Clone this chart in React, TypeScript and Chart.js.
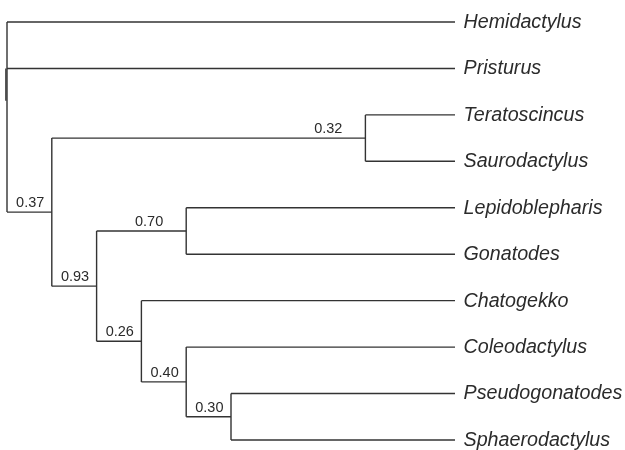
import React, { useEffect, useRef } from "react";
import { Chart, registerables } from "chart.js";

Chart.register(...registerables);

// Tips in plotting order (top to bottom)
const taxa = [
  "Hemidactylus",
  "Pristurus",
  "Teratoscincus",
  "Saurodactylus",
  "Lepidoblepharis",
  "Gonatodes",
  "Chatogekko",
  "Coleodactylus",
  "Pseudogonatodes",
  "Sphaerodactylus",
];
const taxonParent = ["root", "root", "n32", "n32", "n70", "n70", "n26", "n40", "n30", "n30"];
const tipDepth = 10;

// Internal nodes
const nodeIds = ["root", "n37", "n32", "n93", "n70", "n26", "n40", "n30"];
const nodeParent = [null, "root", "n37", "n37", "n93", "n93", "n26", "n40"];
const nodeDepth = [0, 1, 8, 2, 4, 3, 4, 5];
const nodeSupport = ["", "0.37", "0.32", "0.93", "0.70", "0.26", "0.40", "0.30"];

const LINE = "#333333";
const TEXT = "#2b2b2b";

type P = { x: number; y: number };

function buildTree() {
  const yOf: Record<string, number> = {};
  const xOf: Record<string, number> = {};
  const kids: Record<string, string[]> = {};
  nodeIds.forEach((id, i) => {
    kids[id] = [];
    xOf[id] = nodeDepth[i];
  });
  taxa.forEach((t, i) => {
    yOf[t] = i;
    xOf[t] = tipDepth;
    kids[taxonParent[i]].push(t);
  });
  nodeIds.forEach((id, i) => {
    const p = nodeParent[i];
    if (p) kids[p].push(id);
  });
  const ySpan: Record<string, [number, number]> = {};
  const calc = (id: string): number => {
    if (yOf[id] !== undefined) return yOf[id];
    const ys = kids[id].map(calc);
    const lo = Math.min(...ys);
    const hi = Math.max(...ys);
    ySpan[id] = [lo, hi];
    yOf[id] = (lo + hi) / 2;
    return yOf[id];
  };
  calc("root");
  const rootMean = kids["root"].map((k) => yOf[k]).reduce((a, b) => a + b, 0) / kids["root"].length;

  const segs: P[][] = [];
  taxa.forEach((t, i) => {
    const p = taxonParent[i];
    segs.push([{ x: xOf[p], y: yOf[t] }, { x: xOf[t], y: yOf[t] }]);
  });
  nodeIds.forEach((id, i) => {
    const p = nodeParent[i];
    if (p) segs.push([{ x: xOf[p], y: yOf[id] }, { x: xOf[id], y: yOf[id] }]);
  });
  nodeIds.forEach((id) => {
    const [lo, hi] = ySpan[id];
    segs.push([{ x: xOf[id], y: lo }, { x: xOf[id], y: hi }]);
  });
  segs.push([{ x: -0.025, y: 1 }, { x: -0.025, y: rootMean }]);

  const supports = nodeIds
    .map((id, i) => {
      const p = nodeParent[i];
      return {
        label: nodeSupport[i],
        x: xOf[id],
        y: yOf[id],
        longEdge: p ? xOf[id] - xOf[p] > 1 : false,
      };
    })
    .filter((s) => s.label);
  return { segs, supports };
}

export default function App() {
  const ref = useRef<HTMLCanvasElement | null>(null);
  useEffect(() => {
    if (!ref.current) return;
    const { segs, supports } = buildTree();
    const W = 625;
    const H = 450;
    const pxPerX = 44.8;
    const pxPerY = 46.44;
    const xMin = -7 / pxPerX;
    const yMin = -22 / pxPerY;

    const labelPlugin = {
      id: "treeLabels",
      afterDatasetsDraw(chart: any) {
        const { ctx, scales } = chart;
        const xs = scales.x;
        const ys = scales.y;
        ctx.save();
        ctx.fillStyle = TEXT;
        ctx.font = "italic 19.7px 'Liberation Sans', Arial, sans-serif";
        ctx.textAlign = "left";
        ctx.textBaseline = "middle";
        taxa.forEach((t, i) => {
          ctx.fillText(t, xs.getPixelForValue(tipDepth) + 8.5, ys.getPixelForValue(i) + 0.5);
        });
        ctx.font = "14.5px 'Liberation Sans', Arial, sans-serif";
        ctx.textAlign = "right";
        ctx.textBaseline = "alphabetic";
        supports.forEach((s) => {
          const gap = s.longEdge ? 23 : 7.5;
          ctx.fillText(s.label, xs.getPixelForValue(s.x) - gap, ys.getPixelForValue(s.y) - 5);
        });
        ctx.restore();
      },
    };

    const chart = new Chart(ref.current, {
      type: "scatter",
      data: {
        datasets: segs.map((s) => ({
          data: s,
          showLine: true,
          borderColor: LINE,
          borderWidth: 1.4,
          pointRadius: 0,
          pointHoverRadius: 0,
          clip: false as any,
        })),
      },
      options: {
        animation: false,
        responsive: false,
        maintainAspectRatio: false,
        layout: { padding: 0 },
        plugins: { legend: { display: false }, tooltip: { enabled: false } },
        events: [],
        scales: {
          x: { type: "linear", display: false, min: xMin, max: xMin + W / pxPerX },
          y: { type: "linear", display: false, reverse: true, min: yMin, max: yMin + H / pxPerY },
        },
      },
      plugins: [labelPlugin],
    });
    return () => chart.destroy();
  }, []);

  return (
    <div style={{ position: "fixed", left: 0, top: 0, width: 625, height: 450, background: "#fff" }}>
      <canvas ref={ref} width={625} height={450} style={{ width: 625, height: 450, display: "block" }} />
    </div>
  );
}
